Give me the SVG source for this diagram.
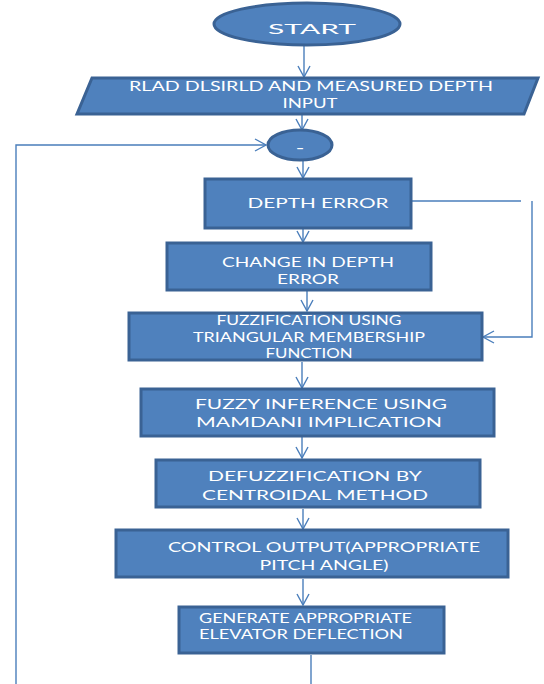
<svg xmlns="http://www.w3.org/2000/svg" width="544" height="684" viewBox="0 0 544 684">
<style>
.n{fill:#4F81BD;stroke:#3A6294;stroke-width:3}
.t{fill:#fff;font-family:Lato,"Liberation Sans",sans-serif;font-size:14px;text-anchor:middle}
.c{fill:none;stroke:#4A7EBB;stroke-width:1.4}
</style>
<defs>
<marker id="a" markerWidth="14" markerHeight="14" refX="12" refY="7" orient="auto" markerUnits="userSpaceOnUse">
<path d="M1,1 L12,7 L1,13" fill="none" stroke="#4A7EBB" stroke-width="1.4"/>
</marker>
</defs>
<rect width="544" height="684" fill="#fff"/>
<g id="connectors">
<line class="c" x1="304" y1="45" x2="304" y2="77" marker-end="url(#a)"/>
<line class="c" x1="302" y1="115" x2="302" y2="130" marker-end="url(#a)"/>
<line class="c" x1="303" y1="161" x2="303" y2="178" marker-end="url(#a)"/>
<line class="c" x1="303" y1="229" x2="303" y2="242" marker-end="url(#a)"/>
<line class="c" x1="307" y1="291" x2="307" y2="311" marker-end="url(#a)"/>
<line class="c" x1="302" y1="362" x2="302" y2="388" marker-end="url(#a)"/>
<line class="c" x1="302" y1="437" x2="302" y2="458" marker-end="url(#a)"/>
<line class="c" x1="303" y1="509" x2="303" y2="529" marker-end="url(#a)"/>
<line class="c" x1="303" y1="579" x2="303" y2="605" marker-end="url(#a)"/>
<line class="c" x1="311" y1="655" x2="311" y2="684"/>
<polyline class="c" points="16,684 16,145 266,145" marker-end="url(#a)"/>
<line class="c" x1="412" y1="201" x2="521" y2="201"/>
<polyline class="c" points="532,201 532,337 483,337" marker-end="url(#a)"/>
</g>
<g id="start">
<ellipse class="n" cx="307" cy="24" rx="93" ry="21"/>
<text class="t" x="312" y="34" font-size="23" textLength="88" lengthAdjust="spacingAndGlyphs">START</text>
</g>
<g id="input">
<polygon class="n" points="92,78 538,78 524,114 77,114"/>
<text class="t" x="311" y="91" font-size="12" textLength="364" lengthAdjust="spacingAndGlyphs">RLAD DLSIRLD AND MEASURED DEPTH</text>
<text class="t" x="310" y="108" font-size="12" textLength="55" lengthAdjust="spacingAndGlyphs">INPUT</text>
</g>
<g id="minus">
<ellipse class="n" cx="300" cy="145" rx="32" ry="15"/>
<text class="t" x="300" y="153" font-size="20" font-weight="bold">–</text>
</g>
<g id="depth-error">
<rect class="n" x="205" y="179" width="206" height="49"/>
<text class="t" x="318" y="208" font-size="14" textLength="141" lengthAdjust="spacingAndGlyphs">DEPTH ERROR</text>
</g>
<g id="change">
<rect class="n" x="167" y="243" width="264" height="47"/>
<text class="t" x="308" y="267" font-size="13" textLength="172" lengthAdjust="spacingAndGlyphs">CHANGE IN DEPTH</text>
<text class="t" x="308" y="284" font-size="13" textLength="62" lengthAdjust="spacingAndGlyphs">ERROR</text>
</g>
<g id="fuzzification">
<rect class="n" x="129" y="313" width="353" height="47"/>
<text class="t" x="309" y="325" font-size="12" textLength="185" lengthAdjust="spacingAndGlyphs">FUZZIFICATION USING</text>
<text class="t" x="309" y="342" font-size="12" textLength="232" lengthAdjust="spacingAndGlyphs">TRIANGULAR MEMBERSHIP</text>
<text class="t" x="309" y="358" font-size="12" textLength="87" lengthAdjust="spacingAndGlyphs">FUNCTION</text>
</g>
<g id="inference">
<rect class="n" x="141" y="389" width="353" height="47"/>
<text class="t" x="321" y="409" font-size="14" textLength="252" lengthAdjust="spacingAndGlyphs">FUZZY INFERENCE USING</text>
<text class="t" x="319" y="427" font-size="14" textLength="246" lengthAdjust="spacingAndGlyphs">MAMDANI IMPLICATION</text>
</g>
<g id="defuzzification">
<rect class="n" x="156" y="460" width="324" height="47"/>
<text class="t" x="315" y="481" font-size="14" textLength="214" lengthAdjust="spacingAndGlyphs">DEFUZZIFICATION  BY</text>
<text class="t" x="315" y="500" font-size="14" textLength="226" lengthAdjust="spacingAndGlyphs">CENTROIDAL METHOD</text>
</g>
<g id="control">
<rect class="n" x="116" y="530" width="392" height="47"/>
<text class="t" x="324" y="552" font-size="13" textLength="312" lengthAdjust="spacingAndGlyphs">CONTROL OUTPUT(APPROPRIATE</text>
<text class="t" x="324" y="570" font-size="13" textLength="129" lengthAdjust="spacingAndGlyphs">PITCH ANGLE)</text>
</g>
<g id="generate">
<rect class="n" x="179" y="607" width="265" height="46"/>
<text class="t" x="199" y="623" font-size="12" style="text-anchor:start" textLength="213" lengthAdjust="spacingAndGlyphs">GENERATE APPROPRIATE</text>
<text class="t" x="199" y="639" font-size="12" style="text-anchor:start" textLength="204" lengthAdjust="spacingAndGlyphs">ELEVATOR DEFLECTION</text>
</g>
</svg>
